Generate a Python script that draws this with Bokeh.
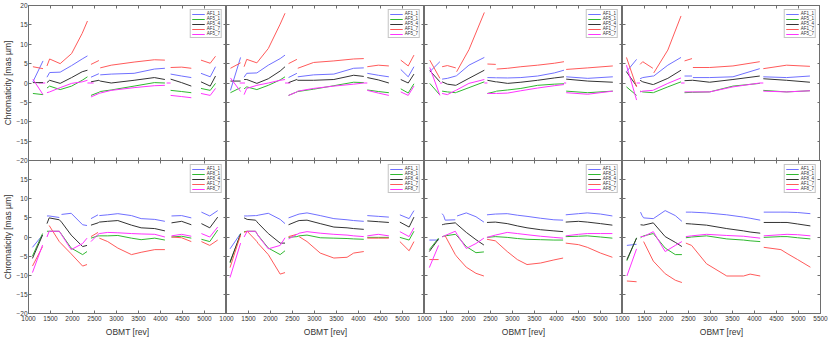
from bokeh.plotting import figure
from bokeh.layouts import column, row
from bokeh.models import FixedTicker, LinearAxis, Range1d, CustomLabelingPolicy
from bokeh.embed import file_html
from bokeh.resources import INLINE

N = float("nan")

names_top = ["AF1_1", "AF5_1", "AF5_4", "AF1_7", "AF5_7"]
names_bottom = ["AF1_1", "AF8_1", "AF8_4", "AF1_7", "AF8_7"]
line_colors = ["#7070ff", "#30b830", "#333333", "#ff5a5a", "#ff33ff"]
x_ticks = [1000, 1500, 2000, 2500, 3000, 3500, 4000, 4500, 5000, 5500]
y_ticks = [-20, -15, -10, -5, 0, 5, 10, 15, 20]

# ---------------- top row ----------------
t1_x = [1100, 1330, 1375, 1420, 1480, 1720, 1980, 2220, 2340, 2380, 2420, 2600, 2615, 2630, 2880, 3400, 3860, 4100, 4165, 4230, 4480, 4700, 4810, 4920, 5130, 5250]
t1_af1_1 = [0.3, 5.7, N, 1.5, 2.7, 2.8, 4.5, 6.2, 7.0, N, 1.5, 2.4, N, 2.1, 2.3, 2.5, 3.6, 3.8, N, 2.3, 1.8, 1.4, N, 2.5, 1.6, 4.2]
t1_af5_1 = [-2.7, -3.0, N, -1.3, -0.8, -1.7, -0.8, 0.7, 1.6, N, -3.2, -2.4, -2.3, -2.2, -1.8, -0.8, 0.1, 0.0, N, -1.9, -2.2, -2.5, N, -1.4, -1.9, -0.1]
t1_af5_4 = [0.1, 0.1, N, 0.1, 0.7, -0.1, 1.4, 2.9, 3.3, N, 0.3, 0.7, 0.6, 0.5, 0.0, 0.7, 1.4, 0.9, N, 1.0, 0.1, -0.8, N, 0.3, -0.8, 1.8]
t1_af1_7 = [4.2, 3.7, N, 4.4, 6.2, 5.0, 7.6, 12.8, 16.0, N, 4.8, 5.8, N, 3.9, 4.6, 5.4, 6.0, 5.9, N, 4.0, 4.1, 3.8, N, 5.9, 5.1, 6.9]
t1_af5_7 = [1.0, -3.0, N, -2.5, -2.3, -1.2, -0.1, 0.3, 0.7, N, -3.6, -2.7, -2.65, -2.6, -1.9, -1.2, -0.7, -0.6, N, -3.2, -3.5, -3.8, N, -2.7, -3.2, -1.4]
t1_zero_x0 = [1230, 2340, 4140]
t1_zero_x1 = [1380, 2480, 4230]

t2_x = [1090, 1320, 1360, 1400, 1460, 1690, 1950, 2220, 2330, 2370, 2410, 2600, 2610, 2620, 2980, 3440, 3890, 4120, 4160, 4200, 4450, 4690, 4820, 4960, 5130, 5260]
t2_af1_1 = [-1.9, 6.6, N, 1.5, 2.5, 2.6, 4.6, 6.3, 7.2, N, 1.4, 2.5, N, 1.6, 2.1, 2.3, 3.8, 3.9, N, 2.5, 2.0, 1.6, N, 3.5, 1.6, 4.2]
t2_af5_1 = [-2.5, -1.2, N, -1.5, -1.0, -1.7, -0.6, 0.8, 1.6, N, -3.2, -2.3, -2.25, -2.2, -1.6, -0.7, 0.2, 0.1, N, -1.8, -2.2, -2.5, N, -1.5, -2.6, -0.2]
t2_af5_4 = [0.5, 0.5, N, 0.9, 0.9, -0.1, 1.1, 3.1, 4.2, N, 0.1, 0.9, 0.8, 0.7, 0.7, 0.9, 2.0, 1.7, N, 1.4, 0.8, 0.0, N, 0.9, 0.0, 2.3]
t2_af1_7 = [3.8, 5.2, N, 4.2, 6.1, 5.2, 8.9, 15.2, 18.0, N, 5.0, 6.1, N, 3.8, 5.3, 5.7, 6.2, 6.3, N, 4.2, 4.6, 4.4, N, 5.9, 4.4, 7.2]
t2_af5_7 = [1.3, -2.2, N, -3.0, -1.4, -0.6, 0.0, 0.7, 0.9, N, -3.2, -2.3, -2.2, -2.1, -1.4, -0.8, -0.3, 0.0, N, -1.9, -2.6, -3.2, N, -2.3, -3.2, -0.8]
t2_zero_x0 = [1300, 2330, 4120]
t2_zero_x1 = [1420, 2450, 4200]

t3_x = [1120, 1350, 1375, 1400, 1520, 1710, 1720, 1730, 2010, 2360, 2395, 2430, 2620, 2630, 2640, 2890, 3190, 3570, 3950, 4170, 4195, 4220, 4710, 5280]
t3_af1_1 = [2.9, 5.5, N, 1.0, 1.2, 1.8, 1.85, 1.9, 4.6, 6.6, N, 1.4, 1.35, 1.35, 1.35, 1.3, 1.4, 1.8, 2.6, 3.3, N, 1.6, 1.2, 1.6]
t3_af5_1 = [-0.1, -3.1, N, -2.1, -2.3, -2.5, -2.45, -2.4, -1.2, 0.3, N, -2.7, -2.2, -2.15, -2.1, -1.8, -1.4, -0.6, -0.3, -0.2, N, -2.1, -2.5, -2.1]
t3_af5_4 = [3.2, 0.3, N, 0.3, -0.3, -0.6, -0.55, -0.5, 1.2, 3.3, N, 0.7, 0.3, 0.3, 0.3, -0.1, 0.2, 0.7, 1.3, 1.6, N, 1.0, 0.5, 0.2]
t3_af1_7 = [5.9, 1.2, N, 4.2, 4.5, 3.9, N, 2.9, 8.6, 18.2, N, 4.9, 4.8, N, 3.6, 3.8, 4.2, 4.6, 5.1, 5.5, N, 3.5, 3.9, 4.4]
t3_af5_7 = [4.0, -3.2, N, -2.7, -3.0, -1.9, -1.85, -1.8, -0.1, 0.9, N, -2.7, -2.7, -2.7, -2.7, -2.6, -2.0, -1.3, -0.7, -0.4, N, -2.5, -2.9, -2.1]
t3_zero_x0 = [1350, 2360, 4170]
t3_zero_x1 = [1400, 2430, 4220]

t4_x = [1090, 1320, 1360, 1400, 1460, 1690, 1700, 1710, 2030, 2330, 2370, 2410, 2580, 2590, 2600, 2980, 3510, 4120, 4160, 4200, 4730, 5260]
t4_af1_1 = [2.9, 6.1, N, 1.1, 1.4, 1.8, 1.8, 1.8, 4.6, 6.6, N, 1.8, 1.8, N, 1.4, 1.4, 1.6, 3.7, N, 1.6, 1.4, 1.8]
t4_af5_1 = [-1.0, -3.2, N, -2.1, -2.3, -2.5, -2.5, -2.45, -1.0, 0.3, N, -2.5, -2.4, -2.4, -2.4, -2.3, -0.8, -0.1, N, -1.9, -2.3, -2.0]
t4_af5_4 = [2.9, -0.8, N, 0.7, 0.3, -0.4, -0.4, -0.35, 1.2, 3.3, N, 0.6, 0.7, 0.7, 0.7, 0.2, 0.9, 1.8, N, 1.1, 0.7, 0.2]
t4_af1_7 = [6.6, -1.0, N, 4.8, 5.5, 3.8, N, 2.6, 8.5, 17.3, N, 5.7, 6.3, N, 4.0, 4.0, 4.4, 5.5, N, 3.7, 4.6, 4.3]
t4_af5_7 = [4.6, -4.4, N, -2.3, -2.1, -1.9, -1.85, -1.8, -0.1, 1.3, N, -2.3, -2.3, -2.3, -2.3, -2.3, -1.0, 0.0, N, -2.1, -2.3, -2.0]
t4_zero_x0 = [1320, 2330, 4120]
t4_zero_x1 = [1400, 2410, 4200]

# ---------------- bottom row ----------------
b1_x = [1090, 1320, 1370, 1420, 1470, 1700, 1725, 1750, 1970, 2230, 2330, 2375, 2420, 2580, 2595, 2610, 2800, 3030, 3340, 3560, 3870, 4100, 4175, 4250, 4480, 4700, 4815, 4930, 5120, 5300]
b1_af1_1 = [-2.7, 0.5, N, 5.5, 5.5, 5.1, N, 5.9, 6.2, 3.2, 3.0, N, 4.8, 5.8, N, 5.6, 5.8, 6.1, 5.6, 4.8, 4.6, 4.1, N, 5.5, 5.6, 5.0, N, 6.5, 5.5, 6.9]
b1_af8_1 = [-5.0, 0.9, N, 1.5, 1.5, 1.5, 1.1, 0.7, -2.9, -4.6, -3.8, N, -0.3, 0.3, 0.3, 0.3, 0.3, 0.4, -0.3, -0.7, -0.3, -0.8, N, 0.0, 0.2, -0.3, N, -0.6, -1.2, 1.8]
b1_af8_4 = [-5.6, 0.5, N, 3.5, 5.0, 4.5, 4.2, 3.9, 0.5, -2.5, -2.2, N, 3.1, 3.7, 3.8, 3.9, 4.1, 4.3, 3.1, 2.4, 2.2, 1.6, N, 3.7, 4.1, 3.2, N, 3.5, 2.4, 5.2]
b1_af1_7 = [-7.6, -2.5, N, N, 3.0, -1.2, -1.5, -1.8, -4.4, -7.6, -7.2, N, 0.1, 1.2, N, -0.3, -1.2, -2.9, -4.6, -4.0, -3.3, -3.3, N, 0.0, -0.2, -1.2, N, -1.2, -2.2, -0.8]
b1_af8_7 = [-9.3, -2.1, N, 0.0, 1.5, 1.5, 1.05, 0.6, -3.3, -1.7, -0.3, N, -1.2, 0.7, 0.8, 0.9, 1.2, 1.1, 0.9, 0.8, 0.7, 0.0, N, 0.3, 0.7, 0.2, N, 0.9, 0.0, 2.6]

b2_x = [1080, 1320, 1360, 1400, 1470, 1660, 1690, 1720, 1950, 2220, 2330, 2370, 2410, 2600, 2625, 2650, 2830, 3130, 3440, 3740, 3890, 4120, 4160, 4200, 4450, 4690, 4815, 4940, 5150, 5260]
b2_af1_1 = [-3.1, 0.9, N, 5.5, 5.5, 5.6, 5.6, 5.7, 6.2, 4.6, 3.5, N, 5.0, 5.8, 5.9, 6.0, 6.3, 5.6, 4.8, 4.5, 4.3, 4.1, N, 5.6, 5.4, 5.2, N, 5.8, 4.8, 6.9]
b2_af8_1 = [-6.8, 0.9, N, 1.4, 1.5, 1.5, 0.9, 0.4, -2.9, -4.6, -3.6, N, -0.1, 0.1, 0.2, 0.3, 0.5, -0.2, -0.3, -0.4, -0.5, -0.6, N, -0.1, -0.1, -0.1, N, -0.1, -0.8, 1.5]
b2_af8_4 = [-6.5, 0.7, N, 5.0, 4.6, 4.4, 4.0, 3.6, 0.9, -1.6, -1.6, N, 3.2, 4.1, 4.2, 4.3, 4.4, 3.5, 2.6, 2.4, 2.2, 2.0, N, 4.2, 4.0, 3.8, N, 3.9, 2.6, 5.2]
b2_af1_7 = [-8.0, 0.5, N, 1.2, 1.5, -0.8, -1.2, -1.7, -4.6, -9.7, -9.3, N, 0.1, 0.7, N, 0.1, -1.2, -4.2, -5.5, -5.3, -4.2, -3.8, N, -0.3, -0.3, -0.3, N, -1.2, -3.6, -1.2]
b2_af8_7 = [-10.6, -1.6, N, 0.0, 1.5, 1.5, 0.9, 0.3, -3.1, -2.2, -0.2, N, -0.5, 0.7, 0.8, 1.0, 1.4, 1.0, 0.7, 0.5, 0.3, 0.1, N, 0.3, 0.7, 0.3, N, 1.4, 0.1, 2.4]

b3_x = [1110, 1320, 1360, 1400, 1435, 1470, 1700, 1720, 1740, 1950, 2170, 2350, 2385, 2420, 2610, 2880, 3110, 3330, 3640, 3940, 4150, 4180, 4210, 4500, 4700, 5000, 5270]
b3_af1_1 = [-0.8, -0.8, N, 6.1, 5.6, 4.4, 4.5, N, 5.5, 6.3, 5.3, 3.9, N, 5.8, 6.0, 6.1, 5.7, 5.4, 4.9, 4.5, 4.4, N, 5.8, 6.1, 6.3, 6.0, 5.5]
b3_af8_1 = [-3.3, -0.3, N, 0.1, 0.2, 0.3, 0.7, 0.5, 0.3, -2.5, -4.1, -3.9, N, -0.1, 0.1, -0.1, -0.4, -0.6, -0.7, -0.8, -0.8, N, 0.1, 0.2, 0.3, 0.0, -0.3]
b3_af8_4 = [-3.8, -0.5, N, 3.2, 3.3, 3.4, 3.7, 3.5, 3.3, 1.2, -0.7, -2.1, N, 3.8, 3.9, 3.5, 2.9, 2.4, 1.9, 1.6, 1.4, N, 3.9, 4.1, 3.9, 3.5, 3.1]
b3_af1_7 = [-5.9, -5.9, N, N, N, 0.3, -4.6, -4.9, -5.2, -7.9, -9.5, -10.2, N, -0.6, -1.0, -3.8, -5.9, -7.2, -6.8, -6.0, -5.5, N, -1.6, -2.0, -2.7, -4.2, -5.3]
b3_af8_7 = [-8.0, -2.2, N, 0.0, 0.2, 0.4, 1.5, 1.1, 0.7, -3.0, -1.7, -0.3, N, -0.1, 0.5, 1.2, 0.9, 0.6, 0.2, -0.1, -0.3, N, 0.3, 0.7, 0.9, 0.9, 0.9]

b4_x = [1100, 1320, 1365, 1410, 1445, 1480, 1700, 1970, 2200, 2350, 2395, 2440, 2570, 2910, 3370, 3750, 3900, 4130, 4170, 4210, 4600, 4740, 4980, 5270]
b4_af1_1 = [-2.2, -1.9, N, 6.5, 5.6, 5.0, 4.8, 6.9, 5.6, 4.1, N, 6.5, 6.5, 6.3, 5.8, 5.2, 4.9, 4.4, N, 6.5, 6.5, 6.5, 6.4, 6.1]
b4_af8_1 = [-6.2, -0.2, N, -0.2, 0.1, 0.3, 0.9, -2.9, -4.6, -4.6, N, -0.2, 0.0, 0.3, -0.5, -0.8, -1.0, -1.2, N, -0.1, 0.1, 0.1, -0.2, -0.5]
b4_af8_4 = [-5.9, -0.3, N, 3.2, 3.15, 3.1, 3.7, 0.1, -1.4, -2.5, N, 3.5, 3.4, 3.1, 2.2, 1.6, 1.3, 1.0, N, 3.8, 3.8, 3.8, 3.4, 2.9]
b4_af1_7 = [-11.5, -11.7, N, N, N, -1.2, -6.3, -9.6, -11.3, -11.9, N, -1.6, -2.2, -7.0, -10.2, -10.2, -9.7, -10.2, N, -2.7, -3.3, -4.3, -5.9, -7.9]
b4_af8_7 = [-10.2, -3.1, N, 0.1, 0.1, 0.1, 1.4, -3.8, -2.2, -1.2, N, 0.1, 0.3, 0.7, 0.4, 0.2, 0.0, -0.3, N, 0.3, 0.6, 0.7, 0.6, 0.3]

FONT = "Liberation Sans"
FW = 198      # frame width
FH = 155      # frame height
LB = 28       # left border of first column
OV = 12       # overlap border for inner bottom panels

NO_LABELS = CustomLabelingPolicy(code="return new Set()")


def style_axis(ax, labels):
    ax.major_tick_in = 3
    ax.major_tick_out = 0
    ax.minor_tick_line_color = None
    ax.axis_line_color = "#6e6e6e"
    ax.major_tick_line_color = "#6e6e6e"
    if labels:
        ax.major_label_text_font = FONT
        ax.major_label_text_font_size = "6.5px"
        ax.major_label_text_color = "#333333"
        ax.major_label_standoff = 2
        ax.axis_label_text_font = FONT
        ax.axis_label_text_font_size = "8.5px"
        ax.axis_label_text_font_style = "normal"
        ax.axis_label_text_color = "#333333"
        ax.axis_label_standoff = 3
    else:
        ax.major_label_text_font_size = "0px"
        ax.major_label_text_color = None
        ax.major_label_standoff = 0
        ax.major_label_policy = NO_LABELS


def make_panel(xs, ys, names, col, is_bottom, zeros=None):
    left = col == 0
    lb = LB if left else (OV if is_bottom else 0)
    rb = 8 if (col == 3 and is_bottom) else 0
    tb = 0 if is_bottom else 5
    bb = 24 if is_bottom else 4
    p = figure(width=lb + FW + rb, height=tb + FH + bb,
               x_range=Range1d(1000, 5500), y_range=Range1d(-20, 20),
               output_backend="svg", toolbar_location=None,
               min_border_left=lb, min_border_right=rb,
               min_border_top=tb, min_border_bottom=bb,
               background_fill_color=None, border_fill_color=None,
               outline_line_color="#6e6e6e")
    p.xgrid.visible = False
    p.ygrid.visible = False
    p.xaxis.ticker = FixedTicker(ticks=x_ticks)
    p.yaxis.ticker = FixedTicker(ticks=y_ticks)
    style_axis(p.xaxis[0], is_bottom)
    style_axis(p.yaxis[0], left)
    if is_bottom:
        p.xaxis.axis_label = "OBMT [rev]"
        if col < 3:
            p.xaxis.major_label_overrides = {5500: ""}
    if left:
        p.yaxis.axis_label = "Chromaticity [mas \u00b5m]"
        p.yaxis.axis_label_standoff = 0
        p.yaxis.major_label_standoff = 1
        if is_bottom:
            p.yaxis.major_label_overrides = {20: ""}
    ra = LinearAxis(ticker=FixedTicker(ticks=y_ticks))
    style_axis(ra, False)
    p.add_layout(ra, "right")
    ta = LinearAxis(ticker=FixedTicker(ticks=x_ticks))
    style_axis(ta, False)
    p.add_layout(ta, "above")

    if zeros is not None:
        z0, z1 = zeros
        p.segment(x0=z0, x1=z1, y0=[0] * len(z0), y1=[0] * len(z0),
                  line_color=line_colors[4], line_width=1)
    for yv, nm, c in zip(ys, names, line_colors):
        p.line(xs, yv, line_color=c, line_width=1, legend_label=nm)

    lg = p.legend[0]
    lg.location = "top_right"
    lg.label_text_font = FONT
    lg.label_text_font_size = "4.5px"
    lg.label_text_color = "#333333"
    lg.glyph_width = 13
    lg.glyph_height = 4
    lg.label_height = 4
    lg.label_width = 10
    lg.spacing = 0
    lg.padding = 1
    lg.margin = 4
    lg.label_standoff = 2
    lg.border_line_color = "#8a8a8a"
    lg.background_fill_color = "white"
    lg.background_fill_alpha = 1.0
    return p


top_panels = [
    (t1_x, [t1_af1_1, t1_af5_1, t1_af5_4, t1_af1_7, t1_af5_7], (t1_zero_x0, t1_zero_x1)),
    (t2_x, [t2_af1_1, t2_af5_1, t2_af5_4, t2_af1_7, t2_af5_7], (t2_zero_x0, t2_zero_x1)),
    (t3_x, [t3_af1_1, t3_af5_1, t3_af5_4, t3_af1_7, t3_af5_7], (t3_zero_x0, t3_zero_x1)),
    (t4_x, [t4_af1_1, t4_af5_1, t4_af5_4, t4_af1_7, t4_af5_7], (t4_zero_x0, t4_zero_x1)),
]
bottom_panels = [
    (b1_x, [b1_af1_1, b1_af8_1, b1_af8_4, b1_af1_7, b1_af8_7]),
    (b2_x, [b2_af1_1, b2_af8_1, b2_af8_4, b2_af1_7, b2_af8_7]),
    (b3_x, [b3_af1_1, b3_af8_1, b3_af8_4, b3_af1_7, b3_af8_7]),
    (b4_x, [b4_af1_1, b4_af8_1, b4_af8_4, b4_af1_7, b4_af8_7]),
]

top_figs = [make_panel(xs, ys, names_top, i, False, zeros=z)
            for i, (xs, ys, z) in enumerate(top_panels)]
bottom_figs = []
for i, (xs, ys) in enumerate(bottom_panels):
    f = make_panel(xs, ys, names_bottom, i, True)
    if i > 0:
        f.margin = (0, 0, 0, -OV)
    bottom_figs.append(f)

top_row = row(*top_figs, spacing=0)
bottom_row = row(*bottom_figs, spacing=0)
bottom_row.margin = (-4, 0, 0, 0)
root = column(top_row, bottom_row, spacing=0)

open("out.html", "w").write(file_html(root, INLINE))
